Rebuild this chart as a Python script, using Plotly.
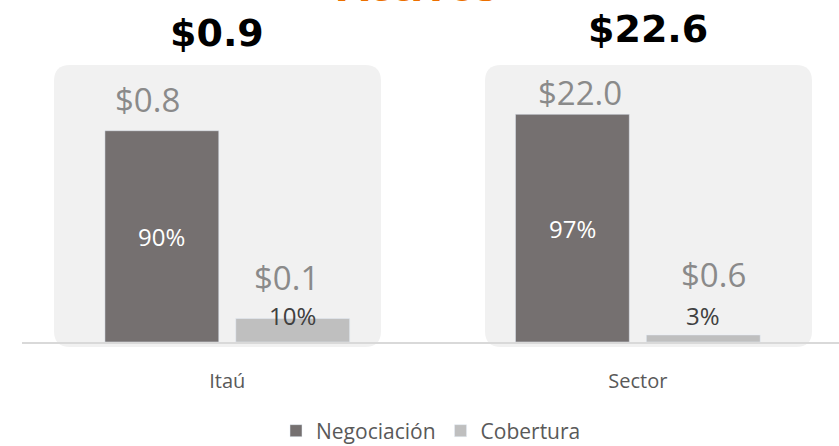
import plotly.graph_objects as go

# ---- data ----
categories = ["Itaú", "Sector"]
series_names = ["Negociación", "Cobertura"]
neg_values = [0.8, 22.0]      # $ bn
cob_values = [0.1, 0.6]
totals = [0.9, 22.6]
neg_pct = [90, 97]
cob_pct = [10, 3]
title_text = "Activos"

# ---- styles ----
W, H = 839, 446
ML, MR, MT, MB = 22, 0, 65, 104
PW, PH = W - ML - MR, H - MT - MB
NEG_COLOR = "#757070"
COB_COLOR = "#bfbfbf"
PANEL_COLOR = "#f1f1f1"
VAL_COLOR = "#8a8a8a"
FONT = "Open Sans"

def px_x(p):
    return (p - ML) / PW

def px_y(p):
    return 1 - (p - MT) / PH

x = list(range(len(categories)))

fig = go.Figure()
fig.add_trace(go.Bar(name=series_names[0], x=x, y=neg_pct, marker_color=NEG_COLOR,
                     hoverinfo="skip"))
fig.add_trace(go.Bar(name=series_names[1], x=x, y=cob_pct, marker_color=COB_COLOR,
                     hoverinfo="skip"))

# rounded panels behind each group (decoration, pixel geometry)
panel_boxes = [(54, 381, 65, 347), (485, 812, 65, 347)]
R = 16
shapes = []
for (x0, x1, y0, y1) in panel_boxes:
    def P(a, b):
        return f"{px_x(a):.5f},{px_y(b):.5f}"
    path = (f"M{P(x0+R, y0)} L{P(x1-R, y0)} Q{P(x1, y0)} {P(x1, y0+R)} "
            f"L{P(x1, y1-R)} Q{P(x1, y1)} {P(x1-R, y1)} L{P(x0+R, y1)} "
            f"Q{P(x0, y1)} {P(x0, y1-R)} L{P(x0, y0+R)} Q{P(x0, y0)} {P(x0+R, y0)} Z")
    shapes.append(dict(type="path", path=path, xref="paper", yref="paper",
                       fillcolor=PANEL_COLOR, line=dict(width=0), layer="below"))

annotations = []
# title (partly cut off at the top, as in the reference)
annotations.append(dict(text=f"<b>{title_text}</b>", x=px_x(418), y=px_y(16), xref="paper",
                        yref="paper", xanchor="center", yanchor="bottom", showarrow=False,
                        font=dict(family=FONT, size=44, color="#EC7000")))
# totals
total_shift = [-10, 10]
total_y = [33, 29]
for i, t in enumerate(totals):
    annotations.append(dict(text=f"<b>${t:.1f}</b>", x=i, xshift=total_shift[i], y=px_y(total_y[i]),
                            xref="x", yref="paper", yanchor="middle", showarrow=False,
                            font=dict(family="DejaVu Sans", size=38, color="#000000")))

# bar value labels
BAR_OFF = 0.1594  # group offset of each series in x units
neg_val_shift = [(-14, 31), (8, 22)]
cob_val_shift = [(-6, 41), (10, 60)]
for i in x:
    dx, dy = neg_val_shift[i]
    annotations.append(dict(text=f"${neg_values[i]:.1f}", x=i - BAR_OFF, y=neg_pct[i],
                            xshift=dx, yshift=dy, showarrow=False, yanchor="middle",
                            font=dict(family=FONT, size=33, color=VAL_COLOR)))
    dx, dy = cob_val_shift[i]
    annotations.append(dict(text=f"${cob_values[i]:.1f}", x=i + BAR_OFF, y=cob_pct[i],
                            xshift=dx, yshift=dy, showarrow=False, yanchor="middle",
                            font=dict(family=FONT, size=33, color=VAL_COLOR)))
    # percentages
    annotations.append(dict(text=f"{neg_pct[i]}%", x=i - BAR_OFF, y=neg_pct[i] / 2,
                            showarrow=False, yanchor="middle",
                            font=dict(family=FONT, size=24, color="#ffffff")))
    annotations.append(dict(text=f"{cob_pct[i]}%", x=i + BAR_OFF, y=px_y(315),
                            yref="paper", showarrow=False, yanchor="middle",
                            font=dict(family=FONT, size=24, color="#404040")))

fig.update_layout(
    width=W, height=H,
    margin=dict(l=ML, r=MR, t=MT, b=MB, autoexpand=False),
    paper_bgcolor="#ffffff", plot_bgcolor="rgba(0,0,0,0)",
    barmode="group", bargap=0.3625, bargroupgap=0.13,
    shapes=shapes, annotations=annotations,
    font=dict(family=FONT, color="#595959"),
    showlegend=True,
    legend=dict(orientation="h", x=px_x(431), xanchor="center",
                yref="container", y=1 - 431 / H, yanchor="middle",
                font=dict(family=FONT, size=21, color="#595959"), traceorder="normal",
                itemwidth=30),
    xaxis=dict(range=[-0.5, 1.49], tickvals=x, ticktext=categories, showline=True,
               linecolor="#d9d9d9", linewidth=1.5, showgrid=False, zeroline=False,
               ticks="", ticklabelstandoff=20, tickfont=dict(family=FONT, size=20, color="#595959")),
    yaxis=dict(range=[0, 118], visible=False, showgrid=False, zeroline=False),
)

fig.write_html("out.html", post_script="document.body.style.margin='0px';",
               config={"displayModeBar": False})
